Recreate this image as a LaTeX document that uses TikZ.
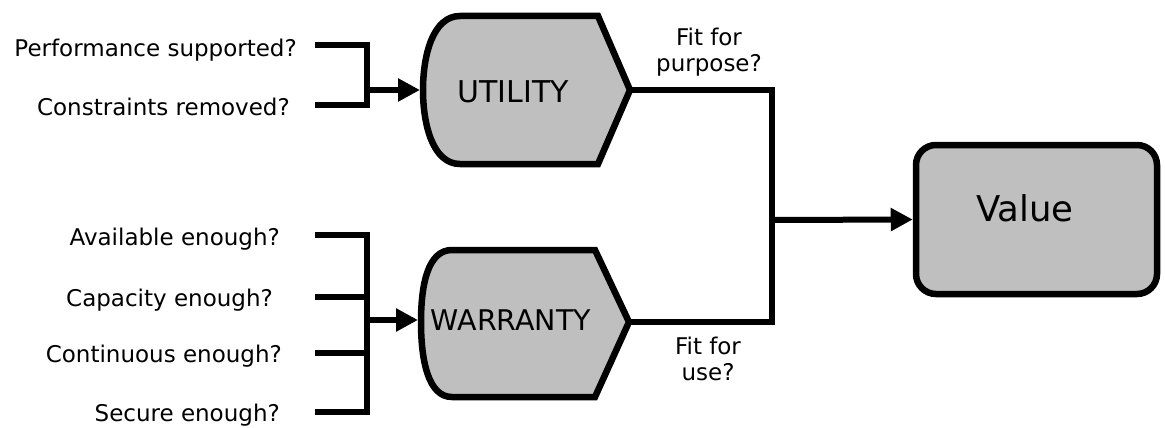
\documentclass[tikz,border=0pt]{standalone}
\usepackage{fontspec}
\setmainfont{DejaVu Sans}
\usetikzlibrary{arrows.meta}
\definecolor{boxgray}{RGB}{191,191,191}
\begin{document}
\begin{tikzpicture}[x=1pt,y=-1pt,
  lbl/.style={anchor=base east,inner sep=0pt,font=\fontsize{23}{27}\selectfont},
  fitlbl/.style={anchor=base,inner sep=0pt,align=center,font=\fontsize{23}{26}\selectfont},
  shp/.style={draw=black,line width=6.5pt,fill=boxgray,line join=miter},
  conn/.style={draw=black,line width=6pt,line join=miter},
  arr/.style={conn,-{Triangle[length=22pt,width=22pt]}}]
\useasboundingbox (0,0) rectangle (1165,428);

% Utility shape
\path[shp] (598,16) -- (630,90) -- (598,164) -- (460,164)
  .. controls (433,164) and (423,125) .. (423,90)
  .. controls (423,55) and (433,16) .. (460,16) -- cycle;
\node[inner sep=0pt,font=\fontsize{30}{34}\selectfont] (util) at (513,92) {UTILITY};
\coordinate (utilIn) at (420,90);
\coordinate (utilOut) at (632,90);

% Warranty shape
\path[shp] (595,250) -- (629,322) -- (595,397) -- (452,397)
  .. controls (428,397) and (421,360) .. (421,322)
  .. controls (421,284) and (428,250) .. (452,250) -- cycle;
\node[inner sep=0pt,font=\fontsize{28.5}{32}\selectfont] (warr) at (511,320) {WARRANTY};
\coordinate (warrIn) at (418,320);
\coordinate (warrOut) at (631,322);

% Value box
\node[shp,rounded corners=20pt,minimum width=241pt,minimum height=149pt,inner sep=0pt] (value) at (1036.5,219.5) {};
\node[inner sep=0pt,font=\fontsize{35.5}{40}\selectfont] (valtxt) at (1025,208) {Value};

% left labels
\node[lbl] (perf) at (297,57) {Performance supported?};
\node[lbl] (cons) at (290,115) {Constraints removed?};
\node[lbl] (avail) at (280,245) {Available enough?};
\node[lbl] (cap) at (273,306) {Capacity enough?};
\node[lbl] (cont) at (282,362) {Continuous enough?};
\node[lbl] (sec) at (280,421) {Secure enough?};

% utility inputs
\coordinate (u1) at (315,45);
\coordinate (u2) at (315,105);
\coordinate (uj) at (367,90);
\draw[conn] (u1) -- (u1 -| uj) -- (u2 -| uj) -- (u2);
\draw[arr] (uj) -- (utilIn);

% warranty inputs
\coordinate (w1) at (315,235);
\coordinate (w2) at (315,297);
\coordinate (w3) at (315,353);
\coordinate (w4) at (315,412);
\coordinate (wj) at (367,320);
\draw[conn] (w1) -- (w1 -| wj) -- (w4 -| wj) -- (w4);
\draw[conn] (w2) -- (w2 -| wj);
\draw[conn] (w3) -- (w3 -| wj);
\draw[arr] (wj) -- (warrIn);

% outputs
\coordinate (vj) at (772,220);
\draw[conn] (utilOut) -- (utilOut -| vj) -- (warrOut -| vj) -- (warrOut);
\draw[arr] (vj) -- (value.west);

\node[fitlbl] (fp) at (709,71) {Fit for\\purpose?};
\node[fitlbl] (fu) at (708,380) {Fit for\\use?};
\end{tikzpicture}
\end{document}
